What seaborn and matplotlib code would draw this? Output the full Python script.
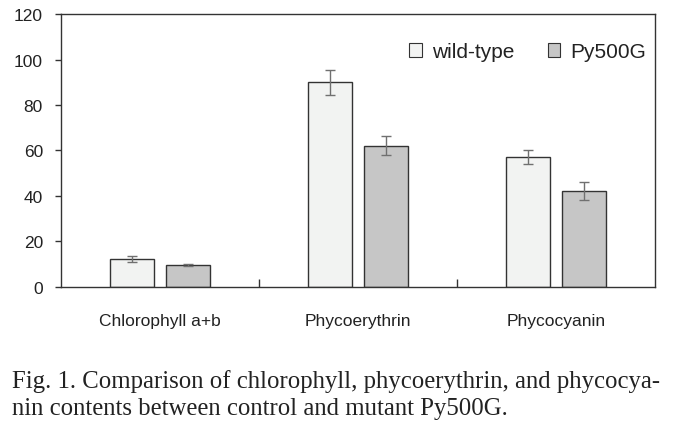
import pandas as pd
import seaborn as sns
import matplotlib.pyplot as plt
from matplotlib.patches import Patch

# data
pigments = ["Chlorophyll a+b", "Phycoerythrin", "Phycocyanin"]
strains = ["wild-type", "Py500G"]
wild_type = [12.3, 90.0, 57.1]
wild_type_err = [1.2, 5.4, 3.2]
mutant = [9.7, 62.1, 42.2]
mutant_err = [0.5, 4.2, 4.1]

df = pd.DataFrame({
    "Pigment": pigments * 2,
    "Strain": [strains[0]] * 3 + [strains[1]] * 3,
    "Value": wild_type + mutant,
    "Err": wild_type_err + mutant_err,
})

colors = {"wild-type": "#f2f3f2", "Py500G": "#c6c6c6"}

sns.set_style("white")
plt.rcParams["font.family"] = ["Liberation Sans", "DejaVu Sans"]

fig = plt.figure(figsize=(6.75, 4.31), dpi=100)
ax = fig.add_axes([0.0904, 0.332, 0.88, 0.633])

sns.barplot(data=df, x="Pigment", y="Value", hue="Strain", order=pigments,
            hue_order=strains, palette=colors, width=0.566, gap=0.215,
            edgecolor="#333333", linewidth=1.0, errorbar=None, legend=False, ax=ax)

# error bars on top of each bar
for patch, (_, row) in zip(ax.patches, df.iterrows()):
    xc = patch.get_x() + patch.get_width() / 2
    ax.errorbar(xc, row.Value, yerr=row.Err, color="#707070", capsize=3.5,
                elinewidth=1.0, capthick=1.0, fmt="none")

ax.set_xlim(-0.5, 2.5)
ax.set_ylim(0, 120)
ax.set_yticks(range(0, 121, 20))
ax.set_xlabel("")
ax.set_ylabel("")
for s in ax.spines.values():
    s.set_color("#333333")
    s.set_linewidth(1.0)

ax.tick_params(axis="y", left=True, direction="out", length=4, width=1,
               color="#333333", labelsize=12.5, pad=9, labelcolor="#222222")
ax.tick_params(axis="x", bottom=False, labelsize=12.5, pad=15, labelcolor="#222222")
ax.set_xticks([0.5, 1.5], minor=True)
ax.tick_params(axis="x", which="minor", bottom=True, direction="in", length=6,
               width=1, color="#333333")

handles = [Patch(facecolor=colors[s], edgecolor="#333333", linewidth=0.8) for s in strains]
ax.legend(handles, strains, loc="upper right", ncol=2, frameon=False,
          fontsize=15, handlelength=0.6, handleheight=0.6, handletextpad=0.5,
          columnspacing=1.6, bbox_to_anchor=(1.017, 0.965), labelcolor="#222222")

fig.text(0.018, 0.083, "Fig. 1. Comparison of chlorophyll, phycoerythrin, and phycocya-\n"
         "nin contents between control and mutant Py500G.",
         family=["Liberation Serif", "DejaVu Serif"], fontsize=17.8,
         linespacing=1.32, va="center", ha="left", color="#222222")

fig.savefig("out.png", dpi=100)
